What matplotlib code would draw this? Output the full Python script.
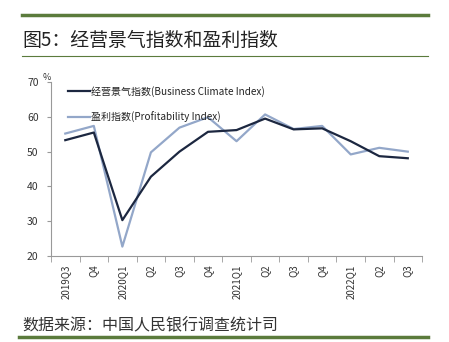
import matplotlib
matplotlib.use("Agg")
import matplotlib.pyplot as plt
from matplotlib.lines import Line2D

plt.rcParams['font.family'] = ['Noto Sans CJK SC', 'DejaVu Sans']

quarters = ["2019Q3", "Q4", "2020Q1", "Q2", "Q3", "Q4", "2021Q1",
            "Q2", "Q3", "Q4", "2022Q1", "Q2", "Q3"]
business = [53.3, 55.5, 30.3, 42.8, 50.0, 55.7, 56.2, 59.5, 56.4, 56.7, 53.0, 48.7, 48.1]
profit = [55.2, 57.4, 22.7, 49.8, 56.9, 59.9, 53.0, 60.7, 56.5, 57.4, 49.2, 51.1, 50.0]
yticks = [20, 30, 40, 50, 60, 70]

dark = "#1c2740"
light = "#93a7c9"
green = "#5b7b3c"

fig = plt.figure(figsize=(4.49, 3.42), dpi=100)
ax = fig.add_axes([0.1136, 0.2515, 0.8264, 0.5085])

x = list(range(len(quarters)))
ax.plot(x, profit, color=light, lw=1.6)
ax.plot(x, business, color=dark, lw=1.6)

ax.set_xlim(-0.5, len(quarters) - 0.5)
ax.set_ylim(20, 70)
ax.set_yticks(yticks)
ax.set_yticklabels([str(v) for v in yticks], fontsize=7.5, color="#333333")
ax.set_xticks(x)
ax.set_xticklabels(quarters, rotation=90, fontsize=7, color="#333333")
ax.set_xticks([i - 0.5 for i in range(len(quarters) + 1)], minor=True)
ax.tick_params(axis="x", which="major", length=0, pad=6)
ax.tick_params(axis="x", which="minor", length=4, color="#999999", direction="out")
ax.tick_params(axis="y", length=3, color="#999999", direction="out", pad=6)
for s in ["top", "right"]:
    ax.spines[s].set_visible(False)
for s in ["left", "bottom"]:
    ax.spines[s].set_color("#999999")
    ax.spines[s].set_linewidth(0.8)

ax.text(47 / 449, 1 - 78 / 342, "%", transform=fig.transFigure, fontsize=6.5,
        color="#333333", ha="center", va="center")

handles = [Line2D([], [], color=dark, lw=1.6), Line2D([], [], color=light, lw=1.6)]
labels = ["经营景气指数(Business Climate Index)", "盈利指数(Profitability Index)"]
leg = ax.legend(handles, labels, loc="upper left", bbox_to_anchor=(0.035, 1.0),
                frameon=False, fontsize=7.2, handlelength=2.2, handletextpad=0.1,
                labelspacing=1.5, borderaxespad=0)
for t in leg.get_texts():
    t.set_color("#222222")

# header and footer rules
fig.add_artist(Line2D([22 / 449, 428 / 449], [1 - 15 / 342] * 2, color=green, lw=2.5))
fig.add_artist(Line2D([22 / 449, 428 / 449], [1 - 56 / 342] * 2, color=green, lw=0.8))
fig.add_artist(Line2D([19 / 449, 428 / 449], [1 - 337 / 342] * 2, color=green, lw=2.5))

fig.text(22 / 449, 1 - 40 / 342, "图5：经营景气指数和盈利指数", fontsize=13.6,
         color="#222222", ha="left", va="center")
fig.text(22 / 449, 1 - 326 / 342, "数据来源：中国人民银行调查统计司", fontsize=11.5,
         color="#333333", ha="left", va="center")

fig.savefig("out.png", dpi=100)
